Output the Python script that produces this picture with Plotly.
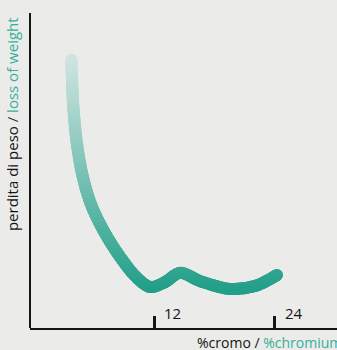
"""Weight loss vs chromium content, thick gradient curve."""

import plotly.graph_objects as go

# Curve (x = % chromium, y = relative weight loss, 0-100)
chromium = [3.77, 3.92, 4.27, 4.86, 5.75, 7.04, 8.63, 10.12, 11.61, 13.1, 14.58, 16.57, 19.54, 22.02, 24.21]
weight_loss = [85.1, 72.4, 59.7, 48.6, 39.0, 30.5, 22.5, 16.5, 13.0, 14.6, 17.5, 14.9, 12.4, 13.3, 16.8]
tick_values = [12, 24]
tick_labels = ["12", "24"]

BG = "#ebebe9"
INK = "#151515"
TEAL_TEXT = "#33b09c"
TOP_RGB = (207, 228, 224)
BOTTOM_RGB = (34, 159, 137)
FONT = "Open Sans"

Y_RANGE = [0, 100]
X_RANGE = [-0.35, 30.2]
N_BANDS = 80
LINE_W = 12

fig = go.Figure()

# Vertical gradient: the same curve drawn in horizontal bands, each band its own
# y-axis so that plotly clips the stroke to that band. Bands overlap a little
# so the clip edges don't leave seams.
y_top, y_bot = max(weight_loss), min(weight_loss)
span = Y_RANGE[1] - Y_RANGE[0]
layout_axes = {}
for k in range(N_BANDS):
    d0 = k / N_BANDS
    d1 = min(1.0, (k + 2.5) / N_BANDS)
    lo = Y_RANGE[0] + span * d0
    hi = Y_RANGE[0] + span * d1
    mid = Y_RANGE[0] + span * (k + 0.5) / N_BANDS
    t = min(max((mid - y_bot) / (y_top - y_bot), 0), 1)
    rgb = [round(b + (a - b) * t) for a, b in zip(TOP_RGB, BOTTOM_RGB)]
    color = f"rgb({rgb[0]},{rgb[1]},{rgb[2]})"
    name = f"y{k + 2}"
    layout_axes[f"yaxis{k + 2}"] = dict(
        domain=[d0, d1], range=[lo, hi],
        anchor="x", visible=False, fixedrange=True,
    )
    fig.add_trace(go.Scatter(
        x=chromium, y=weight_loss, xaxis="x", yaxis=name,
        mode="lines", line=dict(color=color, width=LINE_W, shape="spline"),
        hoverinfo="skip", showlegend=False,
    ))
    # round caps at both ends
    fig.add_trace(go.Scatter(
        x=[chromium[0], chromium[-1]], y=[weight_loss[0], weight_loss[-1]],
        xaxis="x", yaxis=name, mode="markers",
        marker=dict(color=color, size=LINE_W, line_width=0),
        hoverinfo="skip", showlegend=False,
    ))

# tick labels sit to the right of the ticks, above the axis
for v, lab in zip(tick_values, tick_labels):
    fig.add_annotation(
        x=v, y=0, xref="x", yref="paper", text=lab, showarrow=False,
        xanchor="left", yanchor="bottom", xshift=8, yshift=3,
        font=dict(family=FONT, size=15, color=INK),
    )

fig.add_annotation(
    x=-0.058, y=0.994, xref="paper", yref="paper", textangle=-90,
    text=f"perdita di peso / <span style='color:{TEAL_TEXT}'>loss of weight</span>",
    showarrow=False, xanchor="center", yanchor="top",
    font=dict(family=FONT, size=15, color=INK),
)
fig.add_annotation(
    x=0.538, y=-0.008, xref="paper", yref="paper",
    text=f"%cromo / <span style='color:{TEAL_TEXT}'>%chromium</span>",
    showarrow=False, xanchor="left", yanchor="top",
    font=dict(family=FONT, size=14, color=INK),
)

# axis lines and ticks drawn above the band subplots
fig.add_shape(
    type="line", xref="paper", yref="paper", x0=0, x1=0, y0=0, y1=1,
    line=dict(color=INK, width=2),
)

fig.update_layout(
    width=337, height=350,
    margin=dict(l=30, r=0, t=13, b=22),
    paper_bgcolor=BG, plot_bgcolor="rgba(0,0,0,0)",
    showlegend=False,
    xaxis=dict(
        range=X_RANGE, showgrid=False, zeroline=False, showline=True,
        linecolor=INK, linewidth=2, ticks="inside", ticklen=12, tickwidth=3,
        tickcolor=INK, tickvals=tick_values, showticklabels=False,
        fixedrange=True, layer="above traces",
    ),
    yaxis=dict(
        range=Y_RANGE, showgrid=False, zeroline=False, showline=False,
        showticklabels=False, ticks="", fixedrange=True,
    ),
    **layout_axes,
)

fig.write_html(
    "out.html",
    config={"displayModeBar": False},
    post_script="document.body.style.margin='0';document.body.style.overflow='hidden';",
)
